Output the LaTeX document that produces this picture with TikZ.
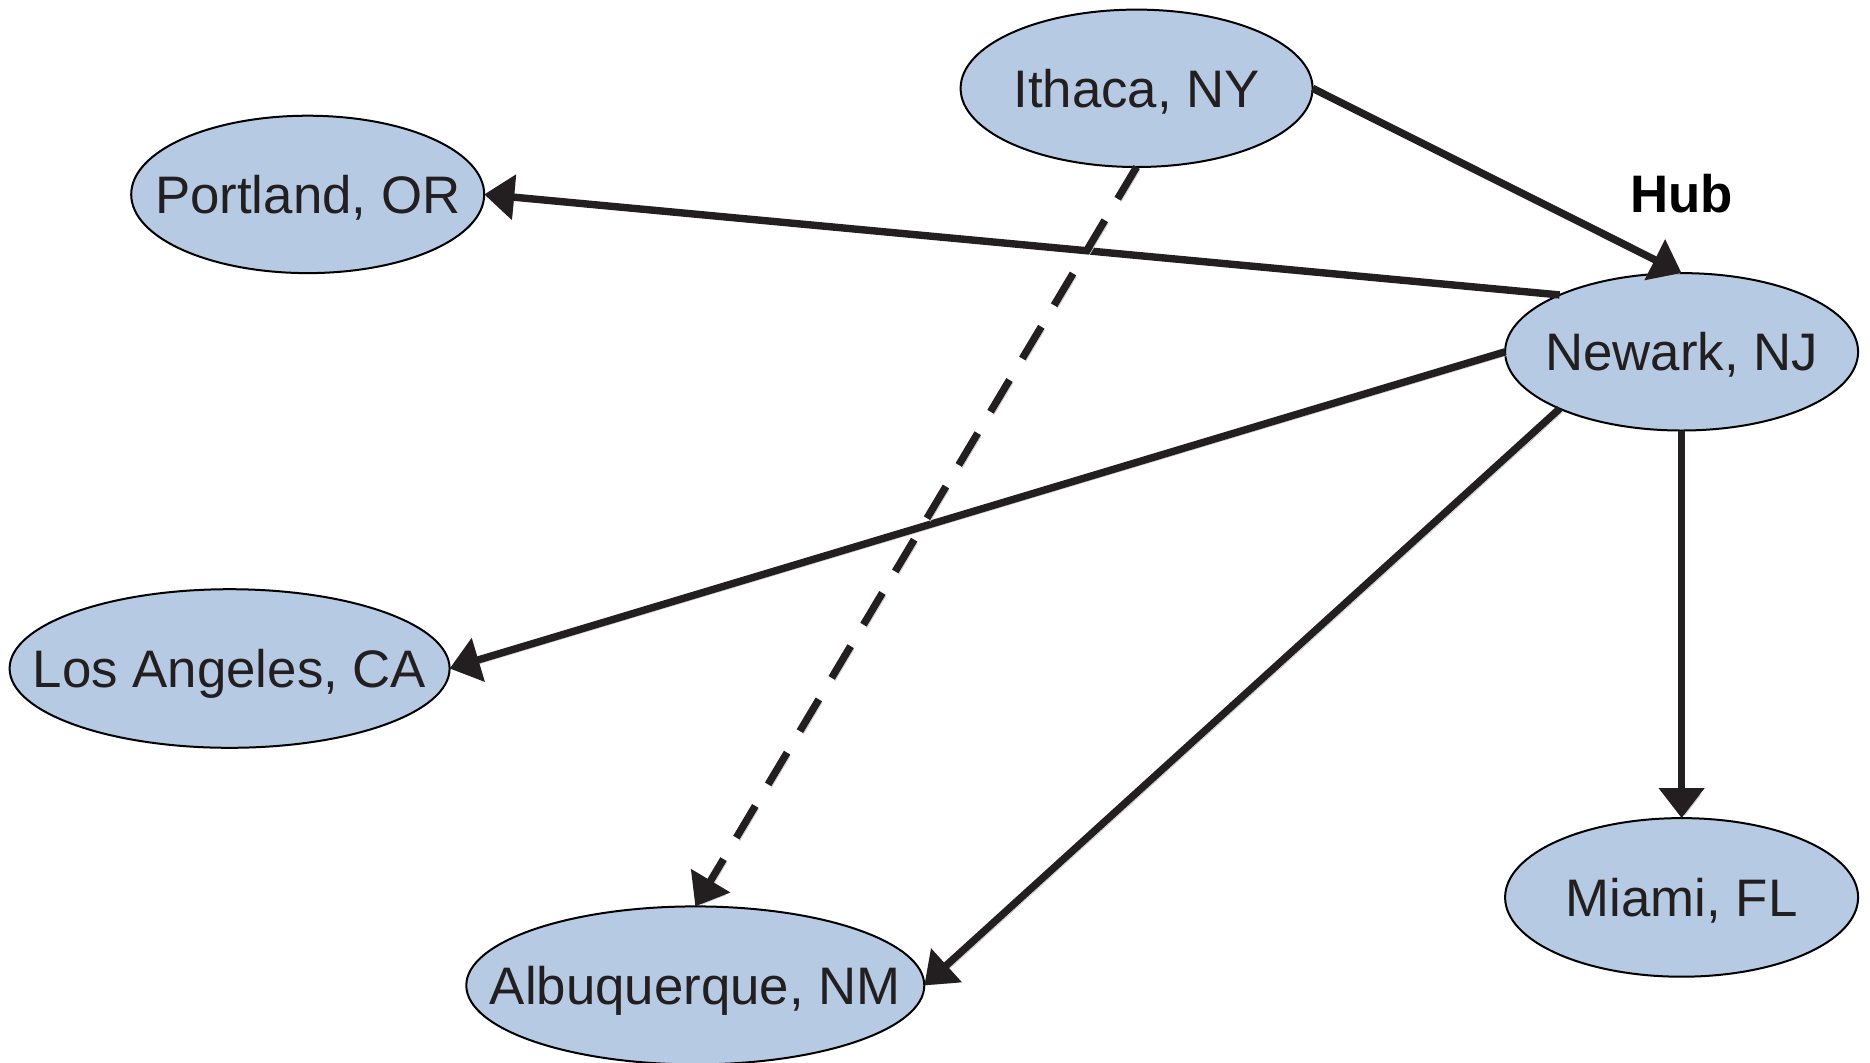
\documentclass[tikz,border=0pt]{standalone}
\usepackage{fontspec}
\setmainfont{Liberation Sans}
\usetikzlibrary{shapes.geometric,arrows.meta}
\definecolor{cityfill}{RGB}{182,202,228}
\definecolor{ink}{RGB}{35,31,32}
\begin{document}
\begin{tikzpicture}[x=0.5pt,y=-0.5pt,
  city/.style={ellipse, draw=black, line width=1pt, fill=cityfill, inner sep=0pt, outer sep=0pt,
    text height=18.9pt, text depth=0pt, font=\fontsize{26.4pt}{30pt}\selectfont, text=ink},
  tip/.style={-{Triangle[length=15pt,width=22pt]}},
  link/.style={draw=ink, line width=3.7pt, tip,
    preaction={draw=black!20, transform canvas={shift={(1.6pt,-1.6pt)}}}},
  dashlink/.style={draw=ink, line width=3.7pt, tip, dash pattern=on 18.5pt off 12.5pt,
    preaction={draw=black!20, dash pattern=on 18.5pt off 12.5pt, transform canvas={shift={(1.6pt,-1.6pt)}}}}
]
\useasboundingbox (0,0) rectangle (1870,1062);

\node[city, minimum width=176pt, minimum height=78.7pt] (ithaca) at (1136.6,88.3) {\makebox[0pt]{Ithaca, NY}};
\node[city, minimum width=176.5pt, minimum height=78.7pt] (portland) at (307.7,194.4) {\makebox[0pt]{Portland, OR}};
\node[city, minimum width=176.5pt, minimum height=78.7pt] (newark) at (1681.6,351.8) {\makebox[0pt]{Newark, NJ}};
\node[city, minimum width=220pt, minimum height=79.3pt] (la) at (229.6,668.5) {\makebox[0pt]{Los Angeles, CA}};
\node[city, minimum width=176.5pt, minimum height=79.3pt] (miami) at (1681.6,897.4) {\makebox[0pt]{Miami, FL}};
\node[city, minimum width=229pt, minimum height=79pt] (abq) at (695.3,985.4) {\makebox[0pt]{Albuquerque, NM}};

\node[anchor=base, inner sep=0pt, text=black, font=\bfseries\fontsize{26.4pt}{30pt}\selectfont] (hub) at (1681.6,212) {Hub};

\draw[link] (ithaca.east) -- (newark.north);
\draw[link] (newark.155) -- (portland.east);
\draw[link] (newark.west) -- (la.east);
\draw[link] (newark.205) -- (abq.east);
\draw[link] (newark.south) -- (miami.north);
\draw[dashlink] (ithaca.south) -- (abq.north);
\end{tikzpicture}
\end{document}
